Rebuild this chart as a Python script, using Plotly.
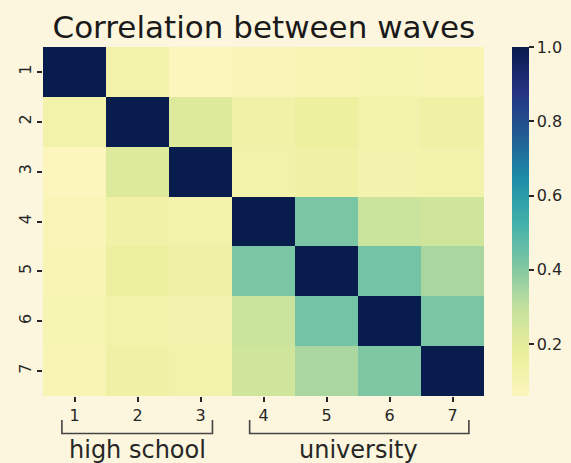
import plotly.graph_objects as go

waves = [1, 2, 3, 4, 5, 6, 7]
wave_labels = ["1", "2", "3", "4", "5", "6", "7"]

row1 = [1.00, 0.12, 0.06, 0.08, 0.09, 0.10, 0.09]
row2 = [0.12, 1.00, 0.22, 0.13, 0.16, 0.12, 0.14]
row3 = [0.06, 0.22, 1.00, 0.12, 0.14, 0.11, 0.12]
row4 = [0.08, 0.13, 0.12, 1.00, 0.42, 0.28, 0.26]
row5 = [0.09, 0.16, 0.14, 0.42, 1.00, 0.43, 0.34]
row6 = [0.10, 0.12, 0.11, 0.28, 0.43, 1.00, 0.42]
row7 = [0.09, 0.14, 0.12, 0.26, 0.34, 0.41, 1.00]

cbar_ticks = [0.2, 0.4, 0.6, 0.8, 1.0]
cbar_labels = ["0.2", "0.4", "0.6", "0.8", "1.0"]

groups = ["high school", "university"]
group_start = [0.80, 3.78]
group_end = [3.19, 7.26]
group_center = [2.0, 5.5]

z = [row1, row2, row3, row4, row5, row6, row7]

# YlGnBu, seen through the warm cream tint of the reference picture
ylgnbu = ["#ffffd9", "#edf8b1", "#c7e9b4", "#7fcdbb", "#41b6c4",
          "#1d91c0", "#225ea8", "#253494", "#081d58"]
tint = (0.988, 0.965, 0.87)


def tinted(hexcol):
    r, g, b = (int(hexcol[i:i + 2], 16) for i in (1, 3, 5))
    return "rgb(%d,%d,%d)" % (round(r * tint[0]), round(g * tint[1]), round(b * tint[2]))


colorscale = [[i / (len(ylgnbu) - 1), tinted(c)] for i, c in enumerate(ylgnbu)]

bg = "#fcf6de"
ink = "#262626"
font_family = "DejaVu Sans"

fig = go.Figure()
fig.add_trace(go.Heatmap(
    z=z, x=waves, y=waves,
    colorscale=colorscale,
    showscale=True,
    hoverinfo="skip",
    colorbar=dict(
        x=1.0635, xanchor="left", xref="paper", xpad=0, ypad=0,
        y=0.5, yanchor="middle", len=1.0, lenmode="fraction",
        thickness=17, outlinewidth=0,
        ticks="outside", ticklen=5, tickwidth=1.5, tickcolor=ink,
        tickvals=cbar_ticks, ticktext=cbar_labels,
        tickfont=dict(size=16, color=ink, family=font_family),
    ),
))

shapes = []
annotations = []
yt = -0.0688
yb = -0.1075
for name, x0, x1, xc in zip(groups, group_start, group_end, group_center):
    shapes.append(dict(
        type="path", xref="x", yref="paper",
        path=f"M {x0},{yt} L {x0},{yb} L {x1},{yb} L {x1},{yt}",
        line=dict(color="#444444", width=1.6),
    ))
    annotations.append(dict(
        text=name, x=xc, xref="x", y=-0.155, yref="paper",
        xanchor="center", yanchor="middle", showarrow=False,
        font=dict(size=24, color=ink, family=font_family),
    ))

fig.update_layout(
    width=571, height=463,
    margin=dict(l=43, r=87, t=47, b=67, autoexpand=False),
    paper_bgcolor=bg, plot_bgcolor=bg,
    font=dict(family=font_family, color=ink),
    title=dict(text="Correlation between waves", x=0.462, xanchor="center",
               y=0.942, yanchor="middle",
               font=dict(size=31, color="#1a1a1a", family=font_family)),
    shapes=shapes,
    annotations=annotations,
)
fig.update_xaxes(
    tickvals=waves, ticktext=wave_labels, range=[0.5, 7.5],
    ticks="outside", ticklen=5, tickwidth=1.5, tickcolor=ink,
    tickfont=dict(size=16, color=ink), showgrid=False, zeroline=False,
    showline=False,
)
fig.update_yaxes(
    tickvals=waves, ticktext=wave_labels, range=[7.5, 0.5],
    ticks="outside", ticklen=5, tickwidth=1.5, tickcolor=ink,
    tickangle=-90, tickfont=dict(size=16, color=ink), showgrid=False,
    zeroline=False, showline=False,
)

fig.write_html(
    "out.html",
    config={"displayModeBar": False},
    post_script="document.body.style.margin='0';document.body.style.overflow='hidden';document.body.style.background='%s';" % bg,
)
